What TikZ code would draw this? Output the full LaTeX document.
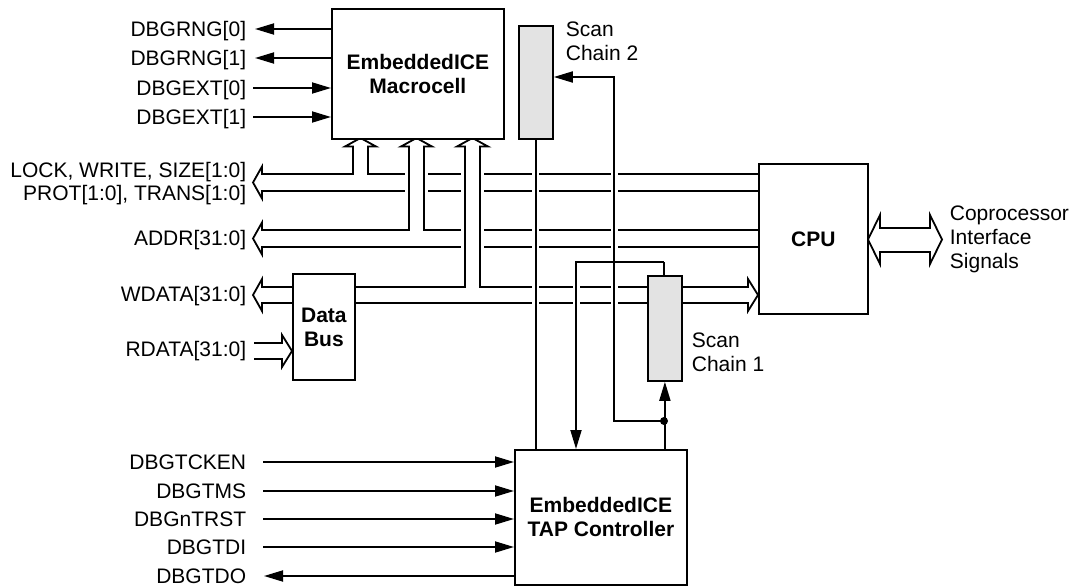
\documentclass[tikz,border=0pt]{standalone}
\usepackage{fontspec}
\setmainfont{Liberation Sans}
\usetikzlibrary{arrows.meta}
\definecolor{chaingray}{RGB}{227,227,227}
\begin{document}
\begin{tikzpicture}[x=1pt,y=-1pt, line width=1.8pt, line join=miter,
  box/.style={draw, line width=1.8pt, fill=white, inner sep=0pt, anchor=north west, font=\bfseries\fontsize{21}{24}\selectfont, align=center},
  chain/.style={box, fill=chaingray},
  lbl/.style={anchor=base east, inner sep=0pt, font=\fontsize{21}{24}\selectfont},
  txt/.style={anchor=west, inner sep=0pt, align=left, font=\fontsize{21}{24}\selectfont},
  sig/.style={-{Triangle[length=19pt,width=11pt]}},
  halo/.style={draw=white, line width=7pt},
  cover/.style={fill=white, draw=none}]
\useasboundingbox (0,0) rectangle (1080,586);

% ---------- labels ----------
\node[lbl] (rng0) at (247,36.5) {DBGRNG[0]};
\node[lbl] (rng1) at (247,65.5) {DBGRNG[1]};
\node[lbl] (ext0) at (247,95.5) {DBGEXT[0]};
\node[lbl] (ext1) at (247,124.5) {DBGEXT[1]};
\node[lbl] (lock) at (247,177.5) {LOCK, WRITE, SIZE[1:0]};
\node[lbl] (prot) at (247,200.5) {PROT[1:0], TRANS[1:0]};
\node[lbl] (addr) at (247,245.5) {ADDR[31:0]};
\node[lbl] (wdata) at (247,301) {WDATA[31:0]};
\node[lbl] (rdata) at (247,356) {RDATA[31:0]};
\node[lbl] (tcken) at (247,469.5) {DBGTCKEN};
\node[lbl] (tms) at (247,498.5) {DBGTMS};
\node[lbl] (ntrst) at (247,526.5) {DBGnTRST};
\node[lbl] (tdi) at (247,554.5) {DBGTDI};
\node[lbl] (tdo) at (247,583.5) {DBGTDO};

% ---------- named coordinates ----------
\coordinate (rng0e) at (255,29);
\coordinate (rng1e) at (255,58);
\coordinate (ext0s) at (253,88);
\coordinate (ext1s) at (253,117);
\coordinate (tckens) at (263,462);
\coordinate (tmss) at (263,491);
\coordinate (ntrsts) at (263,519);
\coordinate (tdis) at (263,547);
\coordinate (tdoe) at (264,576);

% ---------- LOCK / PROT bus with macrocell arrow 1 ----------
\draw (758,191) -- (262,191) -- (262,198.5) -- (253,182.5) -- (262,166.5) -- (262,174)
      -- (353,174) -- (353,146.5) -- (345,146.5) -- (360.5,138) -- (376,146.5) -- (368,146.5)
      -- (368,174) -- (758,174);
\path[cover] (405,167) rectangle (428,198);
% ---------- ADDR bus with macrocell arrow 2 ----------
\draw (758,247) -- (262,247) -- (262,254.5) -- (253,238.5) -- (262,222.5) -- (262,230)
      -- (409,230) -- (409,146.5) -- (401,146.5) -- (416.5,138) -- (432,146.5) -- (424,146.5)
      -- (424,230) -- (758,230);
\path[cover] (461,167) rectangle (484,254);
% ---------- WDATA bus with macrocell arrow 3 ----------
\draw (292,287) -- (262,287) -- (262,279) -- (253,295) -- (262,311) -- (262,303) -- (292,303);
\draw (354,287) -- (465,287) -- (465,146.5) -- (457,146.5) -- (472.5,138) -- (488,146.5) -- (480,146.5)
      -- (480,287) -- (748,287) -- (748,279) -- (758,295) -- (748,311) -- (748,303) -- (354,303);
% ---------- RDATA ----------
\draw (254,343) -- (282,343) -- (282,335) -- (292,351) -- (282,367) -- (282,359) -- (254,359);
% ---------- coprocessor double arrow ----------
\draw (880,228) -- (930,228) -- (930,215) -- (942,239.5) -- (930,264) -- (930,252)
      -- (880,252) -- (880,264) -- (868,239.5) -- (880,215) -- cycle;

% ---------- halos for crossings ----------
\draw[halo] (535,146) -- (535,441);
\draw[halo] (576,270) -- (576,441);
\draw[halo] (614,85) -- (614,413);

% ---------- boxes ----------
\node[box, minimum width=172pt, minimum height=130pt] (mac) at (331,8) {EmbeddedICE\\Macrocell};
\node[chain, minimum width=34pt, minimum height=113pt] (sc2) at (518,25) {};
\node[box, minimum width=109pt, minimum height=150pt] (cpu) at (758,163) {CPU};
\node[box, minimum width=62pt, minimum height=106pt] (db) at (292,273) {Data\\Bus};
\node[box, minimum width=172pt, minimum height=135pt] (tap) at (514,449) {EmbeddedICE\\TAP Controller};

% ---------- scan chain connections ----------
\draw (sc2.south) -- (sc2.south |- tap.north);
\coordinate (dot) at (664,421);
\draw[sig] (dot) -- (614,421) -- (614,77) -- (sc2.east |- 0,77);
\draw[sig] (664,262) -- (576,262) -- (576,449);
\draw (664,262) -- (664,275);
\node[chain, minimum width=34pt, minimum height=105pt] (sc1) at (647,275) {};
\draw[sig] (tap.north -| sc1.south) -- (sc1.south);
\fill (dot) circle (4pt);

% ---------- signal arrows ----------
\draw[sig] (mac.west |- rng0e) -- (rng0e);
\draw[sig] (mac.west |- rng1e) -- (rng1e);
\draw[sig] (ext0s) -- (mac.west |- ext0s);
\draw[sig] (ext1s) -- (mac.west |- ext1s);
\draw[sig] (tckens) -- (tap.west |- tckens);
\draw[sig] (tmss) -- (tap.west |- tmss);
\draw[sig] (ntrsts) -- (tap.west |- ntrsts);
\draw[sig] (tdis) -- (tap.west |- tdis);
\draw[sig] (tap.west |- tdoe) -- (tdoe);

% ---------- side texts ----------
\node[txt] (sc2t) at (565,41) {Scan\\Chain 2};
\node[txt] (sc1t) at (691,352) {Scan\\Chain 1};
\node[txt] (copt) at (949,239) {Coprocessor\\Interface\\Signals};
\end{tikzpicture}
\end{document}
